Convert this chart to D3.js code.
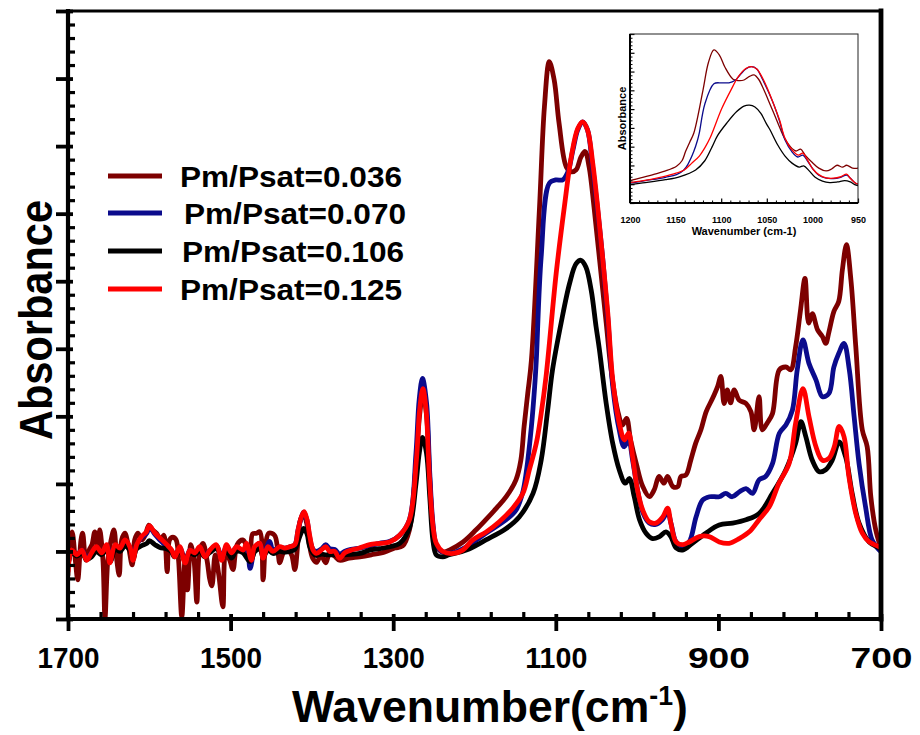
<!DOCTYPE html>
<html>
<head>
<meta charset="utf-8">
<script src="https://cdn.jsdelivr.net/npm/d3@7"></script>
<style>
  body { margin: 0; background: #fff; }
  svg { display: block; }
  text { font-family: "Liberation Sans", Arial, sans-serif; font-weight: bold; fill: #000; }
</style>
</head>
<body>
<svg id="chart" width="920" height="735"></svg>
<script>
// ---- data ----------------------------------------------------------------
const seriesLabels = ["Pm/Psat=0.036", "Pm/Psat=0.070", "Pm/Psat=0.106", "Pm/Psat=0.125"];
const seriesColors = ["#7d0000", "#0b0b8c", "#000000", "#ff0000"];
const xTickValues = [1700, 1500, 1300, 1100, 900, 700];
const insetTickValues = [1200, 1150, 1100, 1050, 1000, 950];

// Pm/Psat = 0.036
const wn036 = [1700,1697.5,1695,1691,1688,1684,1682,1678,1674,1670.5,1667,1663,1661,1657,1654.5,1651,1647,1643.5,1640,1637,1634,1630,1626,1621,1618,1614,1609,1605,1600.5,1596,1591,1586,1582,1578,1575,1571,1567,1564,1560,1556,1553,1549,1545,1541.5,1538,1534,1529,1525.5,1523,1519,1514.5,1509.5,1506,1501,1497,1492,1485,1481,1476,1473,1468,1464,1460,1457,1453,1446,1442,1439.5,1435,1430,1425,1421,1417,1414,1410,1406,1403,1399,1394,1389,1383,1378,1372,1366,1354,1341,1327,1311,1298,1288.5,1280,1272,1267.5,1263.5,1259,1255,1251,1247,1239,1231,1214,1198,1186,1173,1161,1149,1143,1139,1134.5,1130,1120,1114,1108,1102,1096,1087,1081,1075,1069,1064,1059,1053,1046.5,1038,1032,1024,1018,1013,1008,1001,993,985,979,973,967,962.5,956,950,946,940,934,928,921.5,915,907,901,897,893,889,885,880.5,874.5,866,860,856,850,846,840,833.5,825,817,811,805,799,793.5,789,784.5,778,772,768,764,758,752,747.5,742.5,737,731,723,717,712.5,706.5,702,700];
const ab036 = [0.65,1.17,1.29,0.87,0.58,1.17,1.27,0.87,1.02,1.10,1.29,1.02,1.32,0.87,0.01,0.87,1.17,1.32,0.87,0.65,1.17,1.27,1.10,0.80,1.17,1.27,1.17,1.24,1.39,1.32,1.27,1.17,1.24,0.70,1.17,1.21,1.17,0.87,0.03,0.87,0.43,1.10,0.87,0.25,1.02,1.12,0.87,0.58,0.49,0.95,0.65,0.18,0.98,0.87,0.73,1.10,1.17,1.10,0.95,1.26,1.27,1.29,0.58,1.10,1.27,1.24,1.02,0.83,0.98,1.02,0.95,0.73,1.17,1.47,1.54,1.39,1.10,0.90,0.84,0.95,0.83,0.98,0.93,0.87,0.90,0.92,0.95,0.99,1.05,1.08,1.32,2.28,3.02,3.34,3.02,2.06,1.32,1.08,0.99,1.02,1.14,1.32,1.47,1.64,1.81,2.06,2.35,2.85,3.34,3.83,6.10,7.58,8.25,7.98,7.34,6.69,6.62,6.65,6.84,6.92,6.69,6.10,5.36,4.38,3.69,3.09,2.87,2.97,2.65,2.30,1.96,1.81,1.91,2.11,2.01,2.11,1.96,1.96,2.11,2.13,2.35,2.60,2.80,3.07,3.27,3.44,3.59,3.19,3.39,3.20,3.39,3.24,3.19,3.07,2.80,3.29,2.80,2.90,3.04,3.69,3.73,3.69,4.03,4.57,5.04,4.38,4.52,4.28,4.18,4.08,4.25,4.55,4.70,5.17,5.54,5.02,4.03,2.80,2.55,1.81,1.32,1.12,1.05];

// Pm/Psat = 0.070
const wn070 = [1700,1695,1689,1683,1677,1671,1665,1659,1652,1648,1642,1636,1630,1624,1620,1616,1610,1603,1600,1593,1587,1579,1573,1569,1562,1556,1550,1544,1538,1532,1526,1517,1511,1505,1499,1493,1485,1480,1476,1470,1464,1460,1452,1448,1440,1433,1427,1421,1417,1413,1410,1406,1403,1399,1395,1388,1383,1378,1372,1366,1360,1352,1341,1329,1317,1304,1292,1280,1272,1268,1264,1259,1255,1251,1247,1239,1227,1210,1186,1161,1149,1141,1136.5,1130,1126,1124,1118,1108,1100,1091.5,1085,1079,1073,1067,1061,1055,1048.5,1042,1036,1030,1022,1016,1010.5,1005.5,999,993,985,977,969,962.5,958,952,944,936,927.5,919.5,911,899,891,883,874.5,866,858,850,842,833.5,825,817,809,803,796,788.5,780,772,764,758,752,745.5,739,733,727,719,711,702,700];
const ab070 = [0.80,1.00,0.95,1.02,0.90,0.98,1.06,0.98,1.08,0.86,1.08,1.04,1.15,1.06,0.90,1.08,1.20,1.27,1.36,1.25,1.17,1.08,1.02,0.94,1.05,0.86,1.02,0.97,1.05,0.93,1.01,1.08,0.90,1.08,0.98,1.06,1.00,1.05,0.75,1.05,1.12,0.95,1.15,1.02,1.06,1.05,1.07,1.10,1.32,1.50,1.58,1.46,1.22,1.04,1.00,1.04,1.10,1.04,1.03,0.96,1.00,1.03,1.05,1.08,1.12,1.15,1.24,1.47,2.45,3.25,3.56,3.20,2.15,1.40,1.10,0.99,0.98,1.07,1.27,1.47,1.61,1.86,2.16,2.85,3.44,3.83,5.36,6.45,6.50,6.50,6.62,6.94,7.24,7.36,7.24,6.72,6.05,5.30,4.45,3.45,2.80,2.55,2.65,2.35,1.88,1.58,1.42,1.40,1.47,1.58,1.40,1.14,1.08,1.14,1.51,1.76,1.81,1.81,1.86,1.81,1.88,1.93,1.86,2.06,2.11,2.30,2.75,2.87,3.09,3.69,4.13,3.78,3.54,3.29,3.34,3.73,3.93,4.08,3.69,2.99,2.30,1.66,1.17,1.02,1.00];

// Pm/Psat = 0.106
const wn106 = [1700,1695,1689,1683,1677,1671,1665,1659,1652,1648,1642,1636,1630,1624,1620,1616,1610,1603,1600,1593,1587,1579,1573,1569,1562,1556,1550,1544,1538,1532,1526,1517,1511,1505,1499,1493,1485,1476,1470,1464,1460,1454,1448,1440,1433,1427,1421,1417,1413,1410,1406,1403,1399,1395,1388,1383,1378,1372,1366,1360,1341,1329,1317,1304,1292,1280,1272,1268,1264,1259,1255,1251,1247,1239,1231,1210,1186,1161,1145,1128,1118,1110,1104,1093.5,1083,1075,1069,1063,1056.5,1050.5,1046.5,1038,1030,1022,1014.5,1009.5,1003.5,997,989,981,972.5,964.5,958.5,952,944,932,915.5,899,882.5,866,850,833.5,817,805,798.5,792.5,784.5,776,768,760,751.5,743.5,735.5,727,714.5,702,700];
const ab106 = [0.78,0.98,0.93,0.98,0.88,0.92,1.00,0.95,1.02,0.85,1.03,1.00,1.08,1.02,0.88,1.03,1.08,1.12,1.16,1.10,1.06,1.04,1.00,0.92,1.02,0.85,0.98,0.95,1.02,0.92,0.98,1.04,0.88,1.03,0.90,1.00,0.98,0.85,1.00,1.04,0.92,1.02,0.97,1.00,0.99,1.00,1.03,1.15,1.28,1.34,1.26,1.08,0.98,0.94,0.96,0.95,0.95,0.95,0.93,0.95,0.97,1.02,1.04,1.07,1.12,1.35,2.00,2.45,2.69,2.45,1.80,1.15,0.95,0.92,0.95,1.02,1.17,1.34,1.51,1.86,2.35,3.09,3.69,4.38,4.97,5.26,5.31,5.21,4.87,4.33,4.00,3.19,2.60,2.21,2.01,2.08,1.81,1.47,1.27,1.19,1.22,1.29,1.22,1.05,1.02,1.12,1.27,1.39,1.42,1.47,1.56,1.86,2.21,2.60,2.92,2.70,2.35,2.18,2.21,2.35,2.62,2.40,1.86,1.42,1.14,1.05,1.03];

// Pm/Psat = 0.125
const wn125 = [1700,1695.5,1689,1683,1677,1671,1665,1658.5,1652.5,1648.5,1642,1636,1630,1624,1620,1615.5,1609.5,1603.5,1600,1593,1587,1578.5,1572.5,1568.5,1562.5,1556,1550,1544,1538,1531.5,1525.5,1517.5,1511,1505,1499,1492.5,1484.5,1480.5,1474.5,1470.5,1464,1460,1454,1448,1439.5,1433.5,1427.5,1421,1417,1413,1409.5,1406,1402.5,1398.5,1394.5,1388.5,1383,1378,1372,1366,1359.5,1351.5,1341.5,1329,1316.5,1304.5,1292,1280,1271.5,1267.5,1263.5,1259.5,1255.5,1251,1247,1239,1226.5,1214.5,1202,1185.5,1169.5,1153,1140.5,1132.5,1124,1118,1112,1099.5,1089.5,1081,1073,1067,1061,1054.5,1048.5,1042.5,1036,1030,1022,1015.5,1010.5,1005.5,999.5,993,985,977,968.5,962.5,958.5,952,944,936,923.5,911.5,899,887,874.5,862,850,837.5,825.5,813,805,796,788.5,780,772,764,757.5,751.5,745.5,739.5,731,723,714.5,702.5,700];
const ab125 = [0.70,1.02,0.95,1.02,0.87,0.98,1.07,0.98,1.10,0.83,1.10,1.05,1.17,1.07,0.87,1.10,1.22,1.29,1.38,1.27,1.20,1.10,1.02,0.92,1.07,0.83,1.02,0.98,1.07,0.92,1.02,1.10,0.87,1.10,0.98,1.07,1.02,1.12,0.87,1.07,1.12,0.90,1.07,1.00,1.07,1.05,1.07,1.10,1.32,1.51,1.59,1.47,1.22,1.02,0.97,1.02,1.07,1.00,1.00,0.90,0.98,1.02,1.05,1.10,1.12,1.14,1.24,1.47,2.35,3.09,3.41,3.09,2.11,1.37,1.12,1.00,0.97,1.02,1.17,1.29,1.44,1.64,1.86,2.21,2.60,3.04,3.59,5.12,6.10,6.84,7.26,7.36,7.24,6.74,6.10,5.36,4.52,3.54,2.90,2.65,2.75,2.40,1.91,1.61,1.44,1.42,1.51,1.64,1.42,1.14,1.10,1.14,1.22,1.22,1.14,1.12,1.19,1.29,1.47,1.66,2.01,2.30,2.90,3.41,2.99,2.55,2.35,2.38,2.55,2.85,2.70,2.11,1.56,1.27,1.14,1.07,1.05];

const wavenumbers = [wn036, wn070, wn106, wn125];
const absorbances = [ab036, ab070, ab106, ab125];

// ---- layout --------------------------------------------------------------
const svg = d3.select("#chart");
const plot = { left: 68, right: 881, top: 11, bottom: 619 };
const x = d3.scaleLinear().domain([1700, 700]).range([plot.left, plot.right]);
const y = d3.scaleLinear().domain([0, 9]).range([plot.bottom, plot.top]);

const series = seriesLabels.map((label, i) => ({
  label, color: seriesColors[i],
  points: wavenumbers[i].map((w, j) => ({ w, a: absorbances[i][j] }))
}));

svg.append("defs").append("clipPath").attr("id", "plotClip")
  .append("rect").attr("x", plot.left).attr("y", plot.top)
  .attr("width", plot.right - plot.left).attr("height", plot.bottom - plot.top);

// spectra
const line = d3.line().x(d => x(d.w)).y(d => y(d.a)).curve(d3.curveCatmullRom.alpha(0.5));
svg.append("g").attr("clip-path", "url(#plotClip)")
  .selectAll("path").data(series).join("path")
  .attr("d", d => line(d.points))
  .attr("fill", "none").attr("stroke", d => d.color)
  .attr("stroke-width", 4.8).attr("stroke-linejoin", "round").attr("stroke-linecap", "round");

// axes: majors cross the axis line, minors point inward
function styleTicks(g, width) {
  g.select(".domain").remove();
  g.selectAll(".tick line").attr("stroke", "#000").attr("stroke-width", width);
}
const xMinor = d3.range(1700, 699, -40).filter(v => !xTickValues.includes(v));
svg.append("g").attr("transform", `translate(0,${plot.bottom})`)
  .call(d3.axisBottom(x).tickValues(xMinor).tickSize(-7).tickFormat(""))
  .call(g => styleTicks(g, 3.2));
svg.append("g").attr("transform", `translate(0,${plot.bottom})`)
  .call(d3.axisBottom(x).tickValues(xTickValues).tickSize(-5).tickFormat(""))
  .call(g => styleTicks(g, 3.8));
const xAxis = svg.append("g").attr("transform", `translate(0,${plot.bottom})`)
  .call(d3.axisBottom(x).tickValues(xTickValues).tickSize(12).tickPadding(16).tickFormat(d3.format("d")))
  .call(g => styleTicks(g, 3.8));
xAxis.selectAll(".tick text")
  .attr("font-size", 30).attr("font-family", "Liberation Sans, Arial, sans-serif").attr("font-weight", "bold")
  .attr("textLength", 62).attr("lengthAdjust", "spacingAndGlyphs");

const yMajor = d3.range(0, 10);
const yMinor = d3.range(0, 45).map(k => k / 5).filter(v => Math.abs(v - Math.round(v)) > 1e-6);
svg.append("g").attr("transform", `translate(${plot.left},0)`)
  .call(d3.axisLeft(y).tickValues(yMinor).tickSize(-7).tickFormat(""))
  .call(g => styleTicks(g, 3.2));
svg.append("g").attr("transform", `translate(${plot.left},0)`)
  .call(d3.axisLeft(y).tickValues(yMajor).tickSize(12).tickFormat(""))
  .call(g => styleTicks(g, 3.8));
svg.append("g").attr("transform", `translate(${plot.left},0)`)
  .call(d3.axisLeft(y).tickValues(yMajor).tickSize(-5).tickFormat(""))
  .call(g => styleTicks(g, 3.8));

// frame
const frame = svg.append("g").attr("stroke", "#000").attr("stroke-linecap", "square");
frame.append("line").attr("x1", plot.left).attr("x2", plot.left).attr("y1", plot.top).attr("y2", plot.bottom).attr("stroke-width", 4.2);
frame.append("line").attr("x1", plot.left).attr("x2", plot.right).attr("y1", plot.bottom).attr("y2", plot.bottom).attr("stroke-width", 4.2);
frame.append("line").attr("x1", plot.left).attr("x2", plot.right).attr("y1", plot.top).attr("y2", plot.top).attr("stroke-width", 3.2);
frame.append("line").attr("x1", plot.right).attr("x2", plot.right).attr("y1", plot.top).attr("y2", plot.bottom).attr("stroke-width", 4.8);

// axis titles
svg.append("text").attr("transform", "translate(52,320) rotate(-90)")
  .attr("text-anchor", "middle").attr("font-size", 46)
  .attr("textLength", 240).attr("lengthAdjust", "spacingAndGlyphs")
  .text("Absorbance");
const xTitle = svg.append("text").attr("x", 292).attr("y", 722).attr("font-size", 45);
xTitle.append("tspan").text("Wavenumber(cm");
xTitle.append("tspan").attr("font-size", 27).attr("dy", -17).text("-1");
xTitle.append("tspan").attr("dy", 17).text(")");
{
  const w = xTitle.node().getComputedTextLength();
  xTitle.attr("transform", `translate(292,0) scale(${396 / w},1) translate(-292,0)`);
}

// legend
const legendRowY = [176, 213, 251, 289];
const legendTextX = [180, 184, 182, 180];
const legend = svg.append("g");
series.forEach((s, i) => {
  legend.append("line").attr("x1", 108).attr("x2", 162)
    .attr("y1", legendRowY[i]).attr("y2", legendRowY[i])
    .attr("stroke", s.color).attr("stroke-width", 5);
  legend.append("text").attr("x", legendTextX[i]).attr("y", legendRowY[i] + 10.5)
    .attr("font-size", 29).attr("textLength", 222).attr("lengthAdjust", "spacingAndGlyphs")
    .text(s.label);
});

// ---- inset: close-up of the 1200-950 cm-1 band ----------------------------
const ib = { left: 630, right: 858, top: 34, bottom: 203 };
const ix = d3.scaleLinear().domain([1200, 950]).range([ib.left, ib.right]);
const iy = d3.scaleLinear().domain([0.1, 9.1]).range([ib.bottom, ib.top]);
const inset = svg.append("g");
inset.append("rect").attr("x", ib.left).attr("y", ib.top)
  .attr("width", ib.right - ib.left).attr("height", ib.bottom - ib.top).attr("fill", "#fff");
svg.select("defs").append("clipPath").attr("id", "insetClip")
  .append("rect").attr("x", ib.left).attr("y", ib.top)
  .attr("width", ib.right - ib.left).attr("height", ib.bottom - ib.top);
const iline = d3.line().x(d => ix(d.w)).y(d => iy(d.a)).curve(d3.curveCatmullRom.alpha(0.5));
inset.append("g").attr("clip-path", "url(#insetClip)")
  .selectAll("path").data(series).join("path")
  .attr("d", d => iline(d.points.filter(p => p.w <= 1215 && p.w >= 935)))
  .attr("fill", "none").attr("stroke", d => d.color).attr("stroke-width", 1.3);

const insetMinorX = d3.range(1200, 949, -10).filter(v => !insetTickValues.includes(v));
inset.append("g").attr("transform", `translate(0,${ib.bottom})`)
  .call(d3.axisBottom(ix).tickValues(insetMinorX).tickSize(-2.5).tickFormat(""))
  .call(g => styleTicks(g, 1));
const ixAxis = inset.append("g").attr("transform", `translate(0,${ib.bottom})`)
  .call(d3.axisBottom(ix).tickValues(insetTickValues).tickSize(-4.5).tickPadding(14).tickFormat(d3.format("d")))
  .call(g => styleTicks(g, 1.2));
ixAxis.selectAll(".tick text").attr("font-size", 9).attr("font-family", "Liberation Sans, Arial, sans-serif").attr("font-weight", "bold");

const insetMajorY = d3.range(0, 10).map(k => 0.1 + k);
const insetMinorY = d3.range(0, 45).map(k => 0.1 + k / 5).filter((v, k) => k % 5 !== 0);
inset.append("g").attr("transform", `translate(${ib.left},0)`)
  .call(d3.axisLeft(iy).tickValues(insetMinorY).tickSize(-2.5).tickFormat(""))
  .call(g => styleTicks(g, 1));
inset.append("g").attr("transform", `translate(${ib.left},0)`)
  .call(d3.axisLeft(iy).tickValues(insetMajorY).tickSize(-4.5).tickFormat(""))
  .call(g => styleTicks(g, 1.2));

inset.append("rect").attr("x", ib.left).attr("y", ib.top)
  .attr("width", ib.right - ib.left).attr("height", ib.bottom - ib.top)
  .attr("fill", "none").attr("stroke", "#222").attr("stroke-width", 1);
inset.append("line").attr("x1", ib.left).attr("x2", ib.left).attr("y1", ib.top).attr("y2", ib.bottom)
  .attr("stroke", "#000").attr("stroke-width", 2);
inset.append("line").attr("x1", ib.left).attr("x2", ib.right).attr("y1", ib.bottom).attr("y2", ib.bottom)
  .attr("stroke", "#000").attr("stroke-width", 2);

inset.append("text").attr("x", (ib.left + ib.right) / 2).attr("y", 235)
  .attr("text-anchor", "middle").attr("font-size", 11).text("Wavenumber (cm-1)");
inset.append("text").attr("transform", `translate(626,${(ib.top + ib.bottom) / 2}) rotate(-90)`)
  .attr("text-anchor", "middle").attr("font-size", 11).text("Absorbance");
</script>
</body>
</html>
